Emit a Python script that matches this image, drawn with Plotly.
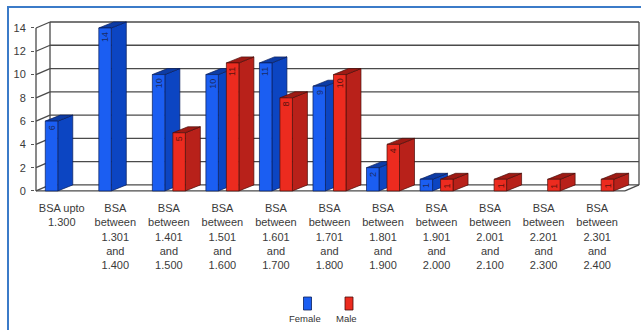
import plotly.graph_objects as go

categories = [
    "BSA upto<br>1.300",
    "BSA<br>between<br>1.301<br>and<br>1.400",
    "BSA<br>between<br>1.401<br>and<br>1.500",
    "BSA<br>between<br>1.501<br>and<br>1.600",
    "BSA<br>between<br>1.601<br>and<br>1.700",
    "BSA<br>between<br>1.701<br>and<br>1.800",
    "BSA<br>between<br>1.801<br>and<br>1.900",
    "BSA<br>between<br>1.901<br>and<br>2.000",
    "BSA<br>between<br>2.001<br>and<br>2.100",
    "BSA<br>between<br>2.201<br>and<br>2.300",
    "BSA<br>between<br>2.301<br>and<br>2.400",
]
female = [6, 14, 10, 10, 11, 9, 2, 1, 0, 0, 0]
male = [0, 0, 5, 11, 8, 10, 4, 1, 1, 1, 1]
y_ticks = [0, 2, 4, 6, 8, 10, 12, 14]

# geometry (in axis units)
W, H = 641, 330
ML, MR, MT, MB = 35, 1, 21, 138
XR = [-0.5, 10.8]
YR = [-0.09, 14.6]
pxx = (W - ML - MR) / (XR[1] - XR[0])
pxy = (H - MT - MB) / (YR[1] - YR[0])

BAR_W = 12.5 / pxx
F_OFF = -16.5 / pxx
M_OFF = 4.0 / pxx
BDX, BDY = 15 / pxx, 6 / pxy      # bar depth
WDX, WDY = 14 / pxx, 6 / pxy      # wall depth
XFL = XR[0] + 1 / pxx
XFR = XR[0] + (625 - ML) / pxx
XBL, XBR = XFL + WDX, XFR + WDX
YTOP = max(y_ticks)

styles = {
    "Female": dict(front="#1b5ef2", side="#0c45c2", top="#0d3ca6", edge="#0a1e5a", text="#1a2b66"),
    "Male": dict(front="#ec2b1f", side="#b8211a", top="#9e1a14", edge="#4a0e0a", text="#5e130e"),
}

fig = go.Figure()


def add_series(name, vals, off):
    st = styles[name]
    fronts_x, fronts_y, sides_x, sides_y, tops_x, tops_y = [], [], [], [], [], []
    for i, v in enumerate(vals):
        if not v:
            continue
        x0 = i + off
        x1 = x0 + BAR_W
        fronts_x += [x0, x1, x1, x0, x0, None]
        fronts_y += [0, 0, v, v, 0, None]
        sides_x += [x1, x1 + BDX, x1 + BDX, x1, x1, None]
        sides_y += [0, BDY, v + BDY, v, 0, None]
        tops_x += [x0, x1, x1 + BDX, x0 + BDX, x0, None]
        tops_y += [v, v, v + BDY, v + BDY, v, None]
    for xs, ys, col in [(sides_x, sides_y, st["side"]), (tops_x, tops_y, st["top"]),
                        (fronts_x, fronts_y, st["front"])]:
        fig.add_trace(go.Scatter(x=xs, y=ys, mode="lines", fill="toself", fillcolor=col,
                                 line=dict(color=st["edge"], width=0.7), name=name,
                                 showlegend=False, hoverinfo="skip"))
    for i, v in enumerate(vals):
        if not v:
            continue
        fig.add_annotation(x=i + off + BAR_W / 2, y=v, xref="x", yref="y", text=str(v),
                           showarrow=False, textangle=-90, yanchor="top", yshift=-2,
                           font=dict(size=9, color=st["text"], family="Arial, Liberation Sans"))


add_series("Female", female, F_OFF)
add_series("Male", male, M_OFF)

shapes = []
gl = dict(color="#4a4a4a", width=1.3)
for v in y_ticks:
    shapes.append(dict(type="line", xref="x", yref="y", x0=XBL, x1=XBR, y0=v + WDY, y1=v + WDY, line=gl, layer="below"))
    shapes.append(dict(type="line", xref="x", yref="y", x0=XFL, x1=XBL, y0=v, y1=v + WDY, line=gl, layer="below"))
shapes += [
    dict(type="line", xref="x", yref="y", x0=XFL, x1=XFL, y0=0, y1=YTOP, line=gl, layer="below"),
    dict(type="line", xref="x", yref="y", x0=XBL, x1=XBL, y0=WDY, y1=YTOP + WDY, line=gl, layer="below"),
    dict(type="line", xref="x", yref="y", x0=XBR, x1=XBR, y0=WDY, y1=YTOP + WDY, line=gl, layer="below"),
    dict(type="line", xref="x", yref="y", x0=XFL, x1=XFR, y0=0, y1=0, line=gl, layer="below"),
    dict(type="line", xref="x", yref="y", x0=XFR, x1=XBR, y0=0, y1=WDY, line=gl, layer="below"),
]

PW, PH = W - ML - MR, H - MT - MB


def px(xp):
    return (xp - ML) / PW


def py(yp):
    return (H - MB - yp) / PH


# outer blue frame
shapes.append(dict(type="rect", xref="paper", yref="paper", x0=px(8), x1=px(652), y0=py(342), y1=py(7),
                   line=dict(color="#3b7bc8", width=2)))
# legend swatches
for name, cx in [("Female", 307.5), ("Male", 349)]:
    shapes.append(dict(type="rect", xref="paper", yref="paper", x0=px(cx - 4), x1=px(cx + 4),
                       y0=py(310), y1=py(297), fillcolor=styles[name]["front"],
                       line=dict(color=styles[name]["edge"], width=0.8)))
fig.update_layout(shapes=shapes)
for name, cx in [("Female", 305), ("Male", 346)]:
    fig.add_annotation(x=px(cx), y=py(318), xref="paper", yref="paper", text=name, showarrow=False,
                       xanchor="center", yanchor="middle",
                       font=dict(size=9.5, color="#333333", family="Arial, Liberation Sans"))

fig.update_layout(
    width=W, height=H, margin=dict(l=ML, r=MR, t=MT, b=MB),
    paper_bgcolor="white", plot_bgcolor="white", showlegend=False,
    font=dict(family="Arial, Liberation Sans", color="#333333"),
    xaxis=dict(range=XR, tickmode="array", tickvals=list(range(len(categories))), ticktext=categories,
               showgrid=False, zeroline=False, showline=False, ticks="", tickangle=0,
               ticklabelstandoff=8,
               tickfont=dict(size=11, color="#3a3a3a"), fixedrange=True),
    yaxis=dict(range=YR, tickmode="array", tickvals=y_ticks, showgrid=False, zeroline=False,
               showline=False, ticks="outside", ticklen=3, tickcolor="#555555",
               ticklabelstandoff=3,
               tickfont=dict(size=11, color="#3a3a3a"), fixedrange=True),
)

fig.write_html("out.html")
